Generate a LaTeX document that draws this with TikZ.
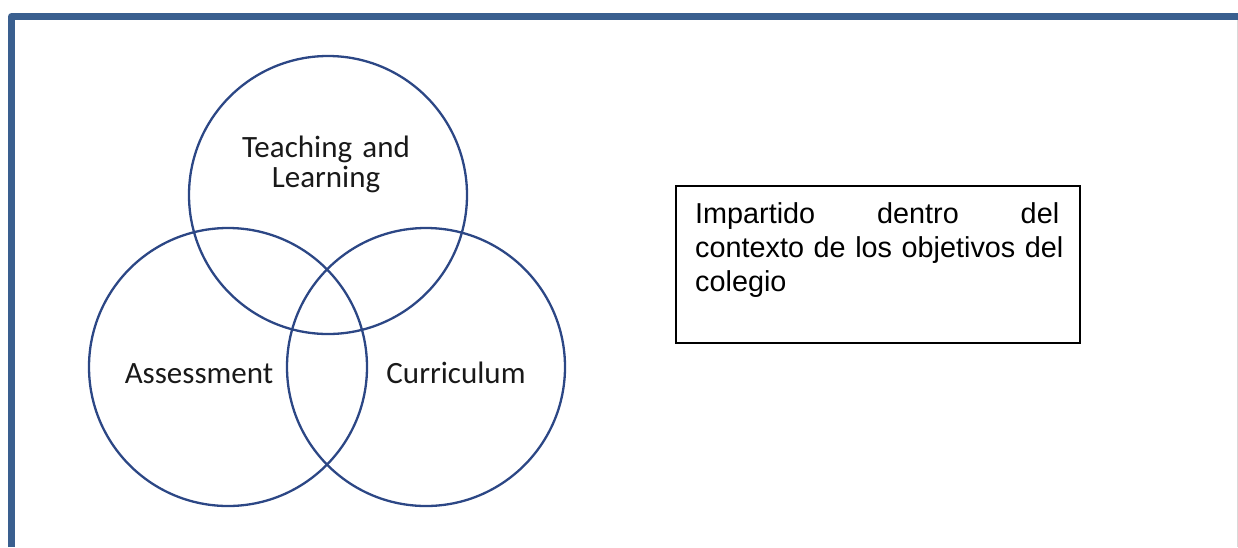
\documentclass[tikz,border=0pt]{standalone}
\usepackage{fontspec}
\newfontfamily\arialf{Liberation Sans}
\newfontfamily\calibrif{Carlito}
\definecolor{frameblue}{HTML}{3A5F8F}
\definecolor{ringblue}{HTML}{2C4785}
\tikzset{
  ring/.style={circle, draw=ringblue, line width=2.3pt, minimum size=278pt, inner sep=0pt},
  ringlabel/.style={font=\calibrif\fontsize{31}{30}\selectfont, text=black!90, inner sep=0pt, align=center},
  notebox/.style={draw=black, line width=1.5pt, minimum width=404pt, minimum height=157pt, inner sep=0pt, anchor=north west},
  notetext/.style={font=\arialf\fontsize{28.8}{34}\selectfont, text width=380pt, align=left, inner sep=0pt, anchor=base west}
}
\begin{document}
\begin{tikzpicture}[x=1pt,y=-1pt]
\useasboundingbox (0,0) rectangle (1238,547);
% outer frame
\draw[frameblue, line width=7pt, line join=round] (11.5,547) -- (11.5,16.5) -- (1238,16.5);
\draw[black!15, line width=1pt] (1237.5,20) -- (1237.5,547);
% circles
\node[ring] (tl) at (328,195) {};
\node[ring] (as) at (228,367) {};
\node[ring] (cu) at (426,367) {};
% labels
\node[ringlabel, text width=240pt, anchor=base] (tltext) at (326,157) {Teaching and\\Learning};
\node[ringlabel, anchor=base] (astext) at (199,383) {Assessment};
\node[ringlabel, anchor=base] (cutext) at (456,383) {Curriculum};
% note box
\node[notebox] (box) at (675,185) {};
\node[notetext] (boxtext) at (695,223) {\leavevmode\hbox to 364pt{Impartido\hfill dentro\hfill del}\\\mbox{contexto de los objetivos del}\\colegio};
\end{tikzpicture}
\end{document}
